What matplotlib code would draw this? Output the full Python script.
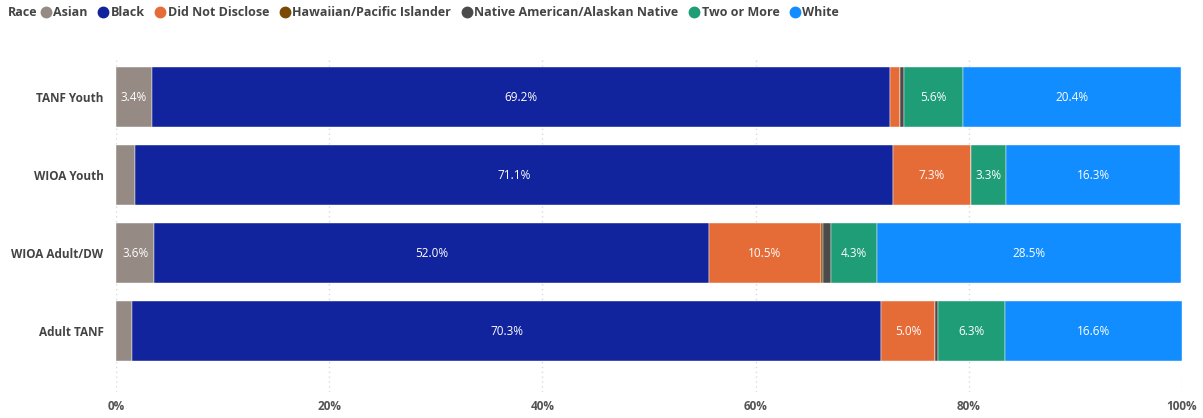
import numpy as np
import matplotlib.pyplot as plt
from matplotlib.lines import Line2D

plt.rcParams['font.family'] = ['Open Sans', 'DejaVu Sans']

programs = ['TANF Youth', 'WIOA Youth', 'WIOA Adult/DW', 'Adult TANF']
races = ['Asian', 'Black', 'Did Not Disclose', 'Hawaiian/Pacific Islander',
         'Native American/Alaskan Native', 'Two or More', 'White']
colors = ['#958B84', '#12239E', '#E66C37', '#7A4A05', '#4B4B4B', '#1E9D76', '#118DFF']

asian = [3.4, 1.8, 3.6, 1.5]
black = [69.2, 71.1, 52.0, 70.3]
not_disclosed = [0.9, 7.3, 10.5, 5.0]
hawaiian = [0.0, 0.0, 0.2, 0.0]
native = [0.4, 0.0, 0.8, 0.3]
two_or_more = [5.6, 3.3, 4.3, 6.3]
white = [20.4, 16.3, 28.5, 16.6]

series = [asian, black, not_disclosed, hawaiian, native, two_or_more, white]

fig = plt.figure(figsize=(12.03, 4.18), dpi=100)
ax = fig.add_axes([116 / 1203, 1 - 392 / 418, (1182 - 116) / 1203, (392 - 58) / 418])

y = np.arange(len(programs))
left = np.zeros(len(programs))
for vals, col in zip(series, colors):
    vals = np.array(vals)
    ax.barh(y, vals, left=left, height=0.77, color=col, edgecolor='white', linewidth=0.3)
    for yi, l, v in zip(y, left, vals):
        if v >= 3:
            ax.text(l + v / 2, yi, f'{v:.1f}%', ha='center', va='center',
                    color='white', fontsize=8.5)
    left += vals

ax.set_xlim(0, 100)
ax.set_ylim(3.78, -0.5)
ax.set_yticks(y)
ax.set_yticklabels(programs, fontsize=8.5, fontweight='bold', color='#444444')
ax.set_xticks(np.arange(0, 101, 20))
ax.set_xticklabels([f'{t}%' for t in range(0, 101, 20)], fontsize=8.5,
                   fontweight='bold', color='#555555')
ax.tick_params(length=0)
ax.tick_params(axis='x', pad=6)
ax.tick_params(axis='y', pad=9)
for s in ax.spines.values():
    s.set_visible(False)
ax.grid(axis='x', color='#DADADA', linestyle=(0, (1, 2.5)), linewidth=1)
ax.set_axisbelow(True)

fig.text(8 / 1203, 1 - 13 / 418, 'Race', fontsize=9, fontweight='bold',
         color='#444444', va='center')
handles = [Line2D([], [], marker='o', linestyle='', color=c, markersize=7.5) for c in colors]
fig.legend(handles, races, loc='center left', bbox_to_anchor=(38 / 1203, 1 - 13 / 418),
           ncol=7, frameon=False, handletextpad=0.0, columnspacing=0.65,
           handlelength=1.2, borderaxespad=0, borderpad=0,
           prop={'weight': 'bold', 'size': 9})
for t in fig.legends[0].get_texts():
    t.set_color('#444444')

fig.savefig('out.png', dpi=100)
